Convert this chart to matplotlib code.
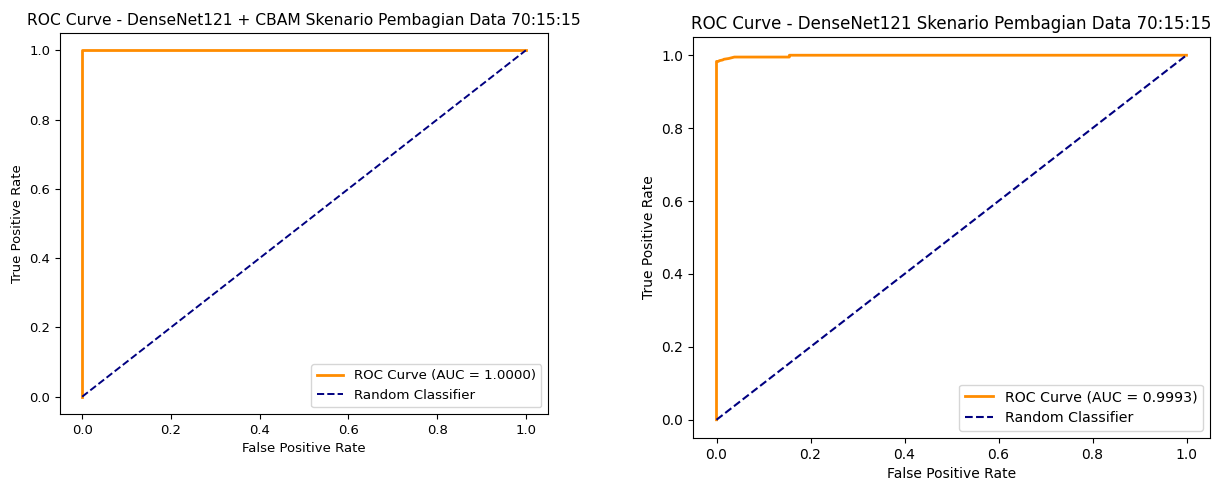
import numpy as np
import matplotlib.pyplot as plt

# Data
fpr_cbam = [0.0, 0.0, 1.0]
tpr_cbam = [0.0, 1.0, 1.0]
auc_cbam = 1.0000

fpr_base = [0.0, 0.0, 0.004, 0.006, 0.013, 0.016, 0.026, 0.038, 0.155, 0.155, 1.0]
tpr_base = [0.0, 0.983, 0.983, 0.985, 0.987, 0.989, 0.991, 0.995, 0.995, 1.0, 1.0]
auc_base = 0.9993

diag = [0, 1]

fig = plt.figure(figsize=(12.17, 4.83), dpi=100)

# left panel (smaller text, scaled down screenshot)
ax1 = fig.add_axes([60 / 1217, 1 - 414 / 483, 488 / 1217, 381 / 483])
ax1.plot(fpr_cbam, tpr_cbam, color='darkorange', lw=2,
         label=f'ROC Curve (AUC = {auc_cbam:.4f})')
ax1.plot(diag, diag, color='navy', lw=1.4, linestyle='--', label='Random Classifier')
ax1.set_xlabel('False Positive Rate', fontsize=9.5)
ax1.set_ylabel('True Positive Rate', fontsize=9.5)
ax1.set_title('ROC Curve - DenseNet121 + CBAM Skenario Pembagian Data 70:15:15', fontsize=11.2)
ax1.tick_params(labelsize=9.5)
ax1.legend(loc='lower right', fontsize=9.6)

# right panel
ax2 = fig.add_axes([693 / 1217, 1 - 438 / 483, 517 / 1217, 401 / 483])
ax2.plot(fpr_base, tpr_base, color='darkorange', lw=2,
         label=f'ROC Curve (AUC = {auc_base:.4f})')
ax2.plot(diag, diag, color='navy', lw=1.5, linestyle='--', label='Random Classifier')
ax2.set_xlabel('False Positive Rate', fontsize=10)
ax2.set_ylabel('True Positive Rate', fontsize=10)
ax2.set_title('ROC Curve - DenseNet121 Skenario Pembagian Data 70:15:15', fontsize=12)
ax2.tick_params(labelsize=10)
ax2.legend(loc='lower right', fontsize=10.2)

fig.savefig('out.png', dpi=100)
